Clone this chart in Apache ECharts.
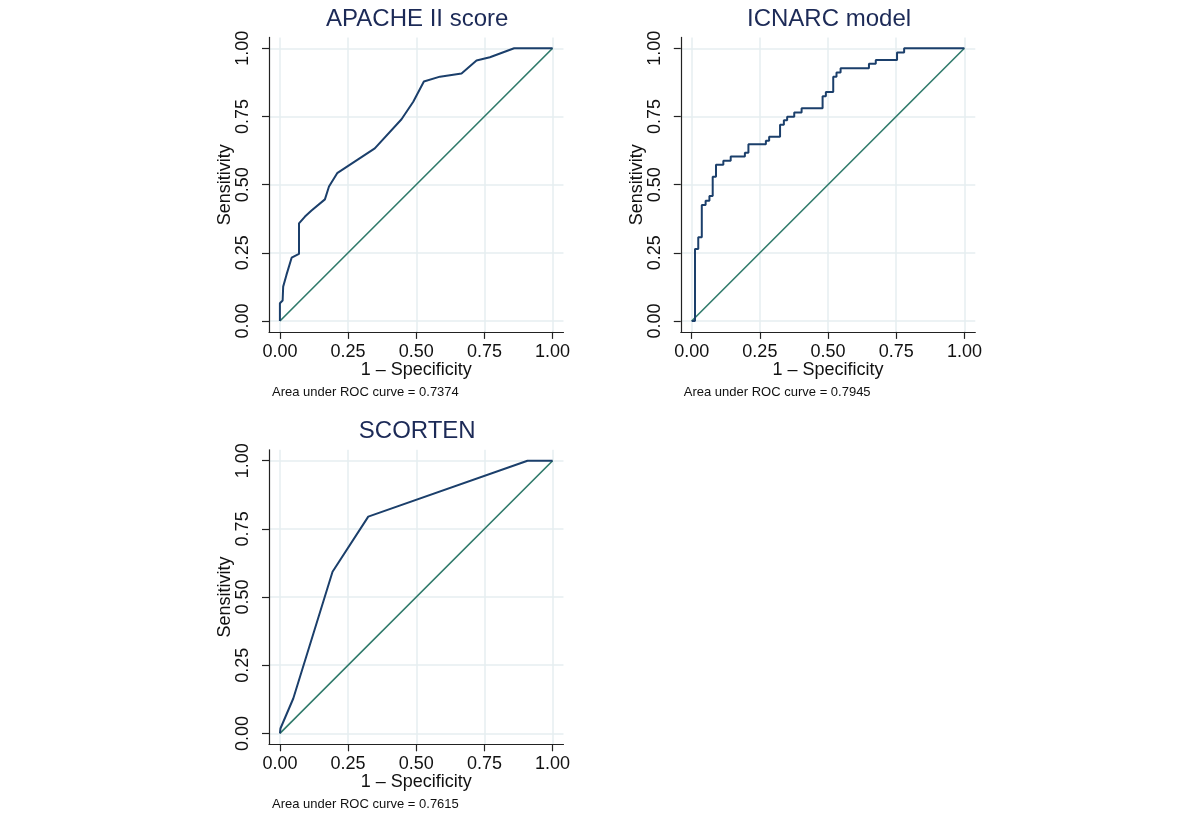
<!DOCTYPE html>
<html>
<head>
<meta charset="utf-8">
<script src="https://cdn.jsdelivr.net/npm/echarts@6/dist/echarts.min.js"></script>
<style>
html,body{margin:0;padding:0;background:#fff;}
#chart{width:1200px;height:820px;}
</style>
</head>
<body>
<div id="chart"></div>
<script>
// ---- data ----
const panelTitles = ["APACHE II score", "ICNARC model", "SCORTEN"];
const aucLabels = ["Area under ROC curve = 0.7374", "Area under ROC curve = 0.7945", "Area under ROC curve = 0.7615"];
const tickValues = [0, 0.25, 0.5, 0.75, 1];
const xAxisName = "1 \u2013 Specificity";
const yAxisName = "Sensitivity";

const apacheFpr = [0, 0, 0.01, 0.012, 0.024, 0.043, 0.07, 0.07, 0.092, 0.116, 0.165, 0.18, 0.21, 0.348, 0.446, 0.489, 0.528, 0.587, 0.666, 0.721, 0.77, 0.859, 1];
const apacheTpr = [0, 0.065, 0.075, 0.126, 0.169, 0.232, 0.246, 0.358, 0.383, 0.405, 0.446, 0.493, 0.542, 0.633, 0.74, 0.804, 0.878, 0.896, 0.908, 0.955, 0.967, 1, 1];

const icnarcFpr = [0, 0.012, 0.024, 0.037, 0.051, 0.065, 0.077, 0.089, 0.116, 0.143, 0.195, 0.208, 0.272, 0.284, 0.324, 0.338, 0.35, 0.376, 0.403, 0.48, 0.492, 0.519, 0.531, 0.546, 0.65, 0.675, 0.753, 0.779, 1];
const icnarcTpr = [0, 0.264, 0.307, 0.425, 0.441, 0.458, 0.529, 0.573, 0.588, 0.603, 0.617, 0.648, 0.661, 0.676, 0.72, 0.736, 0.749, 0.765, 0.78, 0.824, 0.84, 0.896, 0.911, 0.927, 0.943, 0.957, 0.985, 1, 1];

const scortenFpr = [0, 0.002, 0.049, 0.193, 0.324, 0.908, 1];
const scortenTpr = [0, 0.018, 0.128, 0.593, 0.795, 1, 1];

const refX = [0, 1];
const refY = [0, 1];

// ---- layout / style ----
const FONT = "Liberation Sans";
const rocColor = "#1b3f6b";
const refColor = "#2f7a6a";
const gridColor = "#e6eef1";
const axisColor = "#222";
const titleColor = "#1c2a57";

const panels = [
  {left: 269, top: 37.4, fpr: apacheFpr, tpr: apacheTpr, step: false},
  {left: 680.8, top: 37.4, fpr: icnarcFpr, tpr: icnarcTpr, step: 'end'},
  {left: 269, top: 449.8, fpr: scortenFpr, tpr: scortenTpr, step: false}
];
const SIZE = 294.5;
const PAD = 0.04;
const unit = SIZE / (1 + 2 * PAD);

function zip(a, b) { return a.map((v, i) => [v, b[i]]); }

const grids = [], xAxes = [], yAxes = [], series = [], titles = [];
panels.forEach((p, i) => {
  grids.push({left: p.left, top: p.top, width: SIZE, height: SIZE, containLabel: false});
  const common = {
    type: 'value', min: -PAD, max: 1 + PAD, gridIndex: i,
    nameLocation: 'middle', nameMoveOverlap: false,
    nameTextStyle: {fontFamily: FONT, fontSize: 18, color: '#111'},
    axisLine: {show: true, onZero: false, lineStyle: {color: axisColor, width: 1.2}},
    axisTick: {show: true, length: 7, customValues: tickValues, lineStyle: {color: axisColor, width: 1.2}},
    axisLabel: {customValues: tickValues, fontFamily: FONT, fontSize: 18, color: '#111',
      formatter: v => v.toFixed(2)},
    splitLine: {show: true, lineStyle: {color: gridColor, width: 1.5}}
  };
  xAxes.push(Object.assign({}, common, {
    name: xAxisName, nameGap: 29, position: 'bottom',
    axisLabel: Object.assign({}, common.axisLabel, {margin: 11})
  }));
  yAxes.push(Object.assign({}, common, {
    name: yAxisName, nameGap: 35, position: 'left',
    axisLabel: Object.assign({}, common.axisLabel, {margin: 17, rotate: 90})
  }));
  series.push({
    type: 'line', xAxisIndex: i, yAxisIndex: i, data: zip(refX, refY),
    showSymbol: false, lineStyle: {color: refColor, width: 1.6}, animation: false, z: 2
  });
  series.push({
    type: 'line', xAxisIndex: i, yAxisIndex: i, data: zip(p.fpr, p.tpr), step: p.step,
    showSymbol: false, lineStyle: {color: rocColor, width: 2}, animation: false, z: 3
  });
  const cx = p.left + unit * PAD + unit / 2 + 1;
  titles.push({
    text: panelTitles[i], left: cx, top: p.top - 30, textAlign: 'center', padding: 0,
    textStyle: {fontFamily: FONT, fontSize: 24, fontWeight: 'normal', color: titleColor}
  });
  titles.push({
    text: aucLabels[i], left: p.left + 3, top: p.top + SIZE + 54, padding: 0,
    textStyle: {fontFamily: FONT, fontSize: 13, fontWeight: 'normal', color: '#111'}
  });
});

const chart = echarts.init(document.getElementById('chart'), null, {renderer: 'canvas'});
chart.setOption({
  backgroundColor: '#fff',
  animation: false,
  title: titles,
  grid: grids,
  xAxis: xAxes,
  yAxis: yAxes,
  series: series
});
</script>
</body>
</html>
